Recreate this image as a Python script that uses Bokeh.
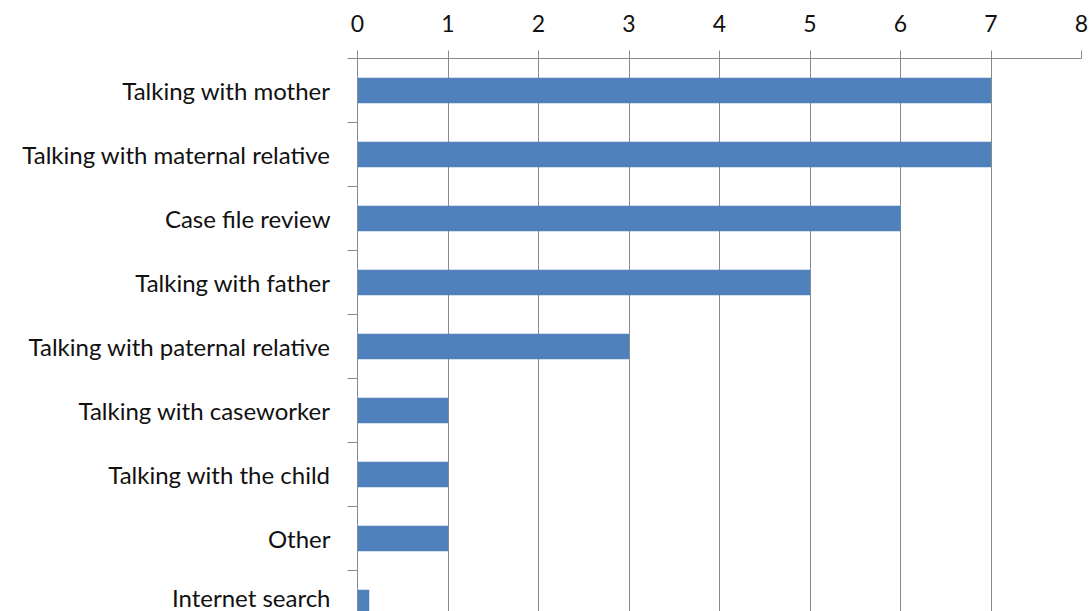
from bokeh.plotting import figure
from bokeh.models import Range1d, FixedTicker, ColumnDataSource
from bokeh.embed import file_html
from bokeh.resources import INLINE

categories = ["Talking with mother", "Talking with maternal relative", "Case file review",
              "Talking with father", "Talking with paternal relative", "Talking with caseworker",
              "Talking with the child", "Other", "Internet search"]
values = [7, 7, 6, 5, 3, 1, 1, 1, 0.13]
x_ticks = [0, 1, 2, 3, 4, 5, 6, 7, 8]

pos = list(range(len(categories)))
src = ColumnDataSource(dict(y=pos, v=values, cat=categories))

p = figure(width=1091, height=611, output_backend="svg", toolbar_location=None,
           x_axis_location="above", x_range=Range1d(0, 8), y_range=Range1d(8.14, -0.5),
           min_border_left=357, min_border_top=58, min_border_right=10, min_border_bottom=0)
p.outline_line_color = None
p.background_fill_color = "white"
p.border_fill_color = "white"

p.hbar(y="y", left=0, right="v", height=0.4, source=src, fill_color="#4F81BD", line_color=None)

font = "Lato"
grey = "#8a8a8a"
xa = p.xaxis[0]
xa.ticker = FixedTicker(ticks=x_ticks)
xa.axis_line_color = grey
xa.major_tick_line_color = grey
xa.major_tick_out = 8
xa.major_tick_in = 0
xa.minor_tick_line_color = None
xa.major_label_standoff = 19
xa.major_label_text_font = font
xa.major_label_text_font_size = "23px"
xa.major_label_text_color = "#111111"

ya = p.yaxis[0]
ya.ticker = FixedTicker(ticks=pos, minor_ticks=[i - 0.5 for i in range(len(categories) + 1)])
ya.major_label_overrides = {i: c for i, c in enumerate(categories)}
ya.axis_line_color = grey
ya.major_tick_line_color = None
ya.major_tick_out = 0
ya.major_tick_in = 0
ya.minor_tick_line_color = grey
ya.minor_tick_out = 10
ya.minor_tick_in = 0
ya.major_label_standoff = 17
ya.major_label_text_font = font
ya.major_label_text_font_size = "24px"
ya.major_label_text_color = "#111111"

p.xgrid.ticker = FixedTicker(ticks=x_ticks)
p.xgrid.grid_line_color = grey
p.ygrid.grid_line_color = None

open("out.html", "w").write(file_html(p, INLINE))
